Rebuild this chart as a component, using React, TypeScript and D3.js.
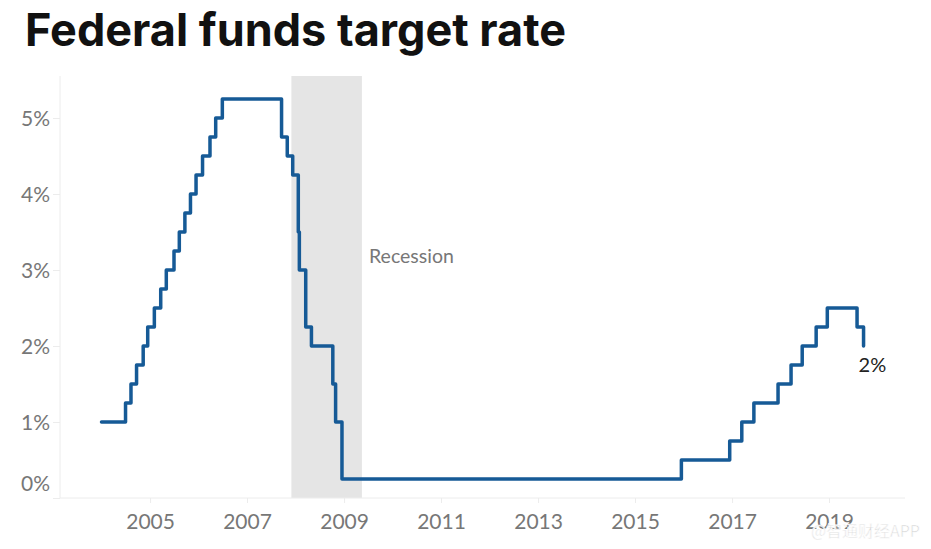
import React, { useEffect, useRef } from 'react';
import * as d3 from 'd3';

// rate change dates and target rate (upper bound, %)
const changeDates = [
  '2004-01-01', '2004-06-30', '2004-08-10', '2004-09-21', '2004-11-10', '2004-12-14',
  '2005-02-02', '2005-03-22', '2005-05-03', '2005-06-30', '2005-08-09', '2005-09-20',
  '2005-11-01', '2005-12-13', '2006-01-31', '2006-03-28', '2006-05-10', '2006-06-29',
  '2007-09-18', '2007-10-31', '2007-12-11', '2008-01-22', '2008-01-30', '2008-03-18',
  '2008-04-30', '2008-10-08', '2008-10-29', '2008-12-16', '2015-12-16', '2016-12-14',
  '2017-03-15', '2017-06-14', '2017-12-13', '2018-03-21', '2018-06-13', '2018-09-26',
  '2018-12-19', '2019-07-31', '2019-09-18',
];
const rates = [
  1.0, 1.25, 1.5, 1.75, 2.0, 2.25,
  2.5, 2.75, 3.0, 3.25, 3.5, 3.75,
  4.0, 4.25, 4.5, 4.75, 5.0, 5.25,
  4.75, 4.5, 4.25, 3.5, 3.0, 2.25,
  2.0, 1.5, 1.0, 0.25, 0.5, 0.75,
  1.0, 1.25, 1.5, 1.75, 2.0, 2.25,
  2.5, 2.25, 2.0,
];
const yTicks = [0, 1, 2, 3, 4, 5];
const xTickYears = [2005, 2007, 2009, 2011, 2013, 2015, 2017, 2019];
const recession = ['2007-12-01', '2009-05-15'];
const lastLabel = '2%';

const App = () => {
  const svg = useRef(null);
  const width = 931;
  const height = 549;

  const renderChart = (root: any) => {
    root.selectAll('*').remove();
    const parse = d3.timeParse('%Y-%m-%d');
    const data = changeDates.map((d, i) => ({ date: parse(d) as Date, rate: rates[i] }));

    const x = d3
      .scaleTime()
      .domain([new Date(2004, 0, 1), new Date(2020, 0, 1)])
      .range([101.5, 877.5]);
    const y = d3.scaleLinear().domain([0, 5]).range([498, 118]);

    // title
    root
      .append('text')
      .attr('x', 25)
      .attr('y', 46)
      .attr('font-family', 'Inter, Lato, sans-serif')
      .attr('font-weight', 700)
      .attr('font-size', 45)
      .attr('fill', '#111')
      .text('Federal funds target rate');

    // recession band
    root
      .append('rect')
      .attr('x', x(parse(recession[0])))
      .attr('y', 76)
      .attr('width', x(parse(recession[1])) - x(parse(recession[0])))
      .attr('height', 498 - 76)
      .attr('fill', '#e5e5e5');

    root
      .append('text')
      .attr('x', 369)
      .attr('y', 263)
      .attr('font-family', 'Lato, sans-serif')
      .attr('font-size', 19.5)
      .attr('fill', '#777')
      .text('Recession');

    // y axis
    const yAxis = d3
      .axisLeft(y)
      .tickValues(yTicks)
      .tickSize(7)
      .tickPadding(3)
      .tickFormat((d: any) => `${d}%`);
    const yg = root.append('g').attr('transform', 'translate(60,0)').call(yAxis);
    yg.select('.domain').attr('stroke', '#ececec').attr('d', 'M0,76V498');
    yg.selectAll('.tick line').attr('stroke', '#ececec');
    yg.selectAll('.tick text')
      .attr('font-family', 'Lato, sans-serif')
      .attr('font-size', 21)
      .attr('fill', '#777')
      .attr('dy', (d: any) => (d === 0 ? '-0.35em' : '0.35em'));

    // x axis
    const xAxis = d3
      .axisBottom(x)
      .tickValues(xTickYears.map(yr => new Date(yr, 0, 1)))
      .tickSize(5)
      .tickPadding(11)
      .tickFormat((d: any) => d3.timeFormat('%Y')(d));
    const xg = root.append('g').attr('transform', 'translate(0,498)').call(xAxis);
    xg.select('.domain').attr('stroke', '#ececec').attr('d', 'M60,0H905');
    xg.selectAll('.tick line').attr('stroke', '#ececec');
    xg.selectAll('.tick text')
      .attr('font-family', 'Lato, sans-serif')
      .attr('font-size', 21)
      .attr('fill', '#777');

    // rate line
    const line = d3
      .line<any>()
      .x(d => x(d.date))
      .y(d => y(d.rate))
      .curve(d3.curveStepAfter);
    root
      .append('path')
      .datum(data)
      .attr('d', line)
      .attr('fill', 'none')
      .attr('stroke', '#165a96')
      .attr('stroke-width', 3.5)
      .attr('stroke-linejoin', 'round')
      .attr('stroke-linecap', 'round');

    const last = data[data.length - 1];
    root
      .append('text')
      .attr('x', x(last.date) - 5)
      .attr('y', y(last.rate) + 26)
      .attr('font-family', 'Lato, sans-serif')
      .attr('font-size', 20)
      .attr('fill', '#222')
      .text(lastLabel);

    // watermark
    root
      .append('text')
      .attr('x', 920)
      .attr('y', 537)
      .attr('text-anchor', 'end')
      .attr('font-family', '"Noto Sans CJK SC", sans-serif')
      .attr('font-size', 16)
      .attr('fill', '#d6d6d6')
      .attr('stroke', '#fff')
      .attr('stroke-width', 0.6)
      .text('@智通财经APP');
  };

  useEffect(() => {
    renderChart(d3.select(svg.current));
  }, []);

  return (
    <div style={{ position: 'fixed', left: 0, top: 0, background: '#fff' }}>
      <svg ref={svg} width={width} height={height} style={{ display: 'block' }} />
    </div>
  );
};

export default App;
